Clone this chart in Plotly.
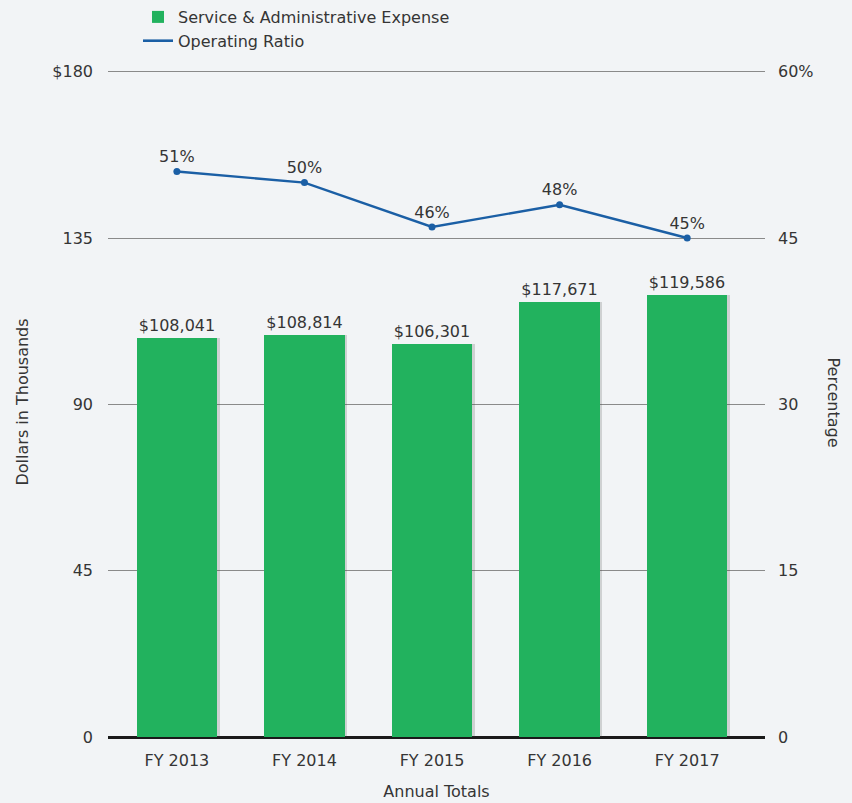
import plotly.graph_objects as go

years = ["FY 2013", "FY 2014", "FY 2015", "FY 2016", "FY 2017"]
expense = [108041, 108814, 106301, 117671, 119586]   # dollars in thousands
ratio = [51, 50, 46, 48, 45]                         # operating ratio, percent

left_ticks = [0, 45000, 90000, 135000, 180000]
left_text = ["0", "45", "90", "135", "$180"]
right_ticks = [0, 15, 30, 45, 60]
right_text = ["0", "15", "30", "45", "60%"]

GREEN = "#22b25e"
BLUE = "#1b5fa5"
TEXT = "#353535"
BG = "#f2f4f6"
FONT = "DejaVu Sans, Noto Sans, sans-serif"

# top of each axis sits a touch above the last tick so its gridline is kept
Y_TOP = 181000
Y2_TOP = Y_TOP / 3000

ML, MR, MT, MB = 108, 87, 68, 66
PLOT_W = 852 - ML - MR

fig = go.Figure()

# soft drop shadow behind each bar
fig.add_trace(go.Bar(
    x=years, y=expense, marker=dict(color="rgba(70,70,70,0.20)", line=dict(width=0)),
    width=0.63, offset=-0.295, showlegend=False, hoverinfo="skip",
))

fig.add_trace(go.Bar(
    x=years, y=expense, name="Service & Administrative Expense",
    marker=dict(color=GREEN, line=dict(width=0)), width=0.63, offset=-0.315,
    text=[f"${v:,}" for v in expense], textposition="outside",
    textfont=dict(size=16, color=TEXT, family=FONT), cliponaxis=False,
))

fig.add_trace(go.Scatter(
    x=years, y=ratio, yaxis="y2", name="Operating Ratio",
    mode="lines+markers+text", line=dict(color=BLUE, width=2.4),
    marker=dict(color=BLUE, size=7), showlegend=False,
    text=[f"{v}%" for v in ratio], textposition="top center",
    textfont=dict(size=16, color=TEXT, family=FONT), cliponaxis=False,
))

# legend entry for the ratio line: plain line swatch, no marker
fig.add_trace(go.Scatter(
    x=[None], y=[None], yaxis="y2", name="Operating Ratio",
    mode="lines", line=dict(color=BLUE, width=2.6), hoverinfo="skip",
))

fig.update_layout(
    width=852, height=803,
    margin=dict(l=ML, r=MR, t=MT, b=MB, autoexpand=False),
    paper_bgcolor=BG, plot_bgcolor=BG,
    font=dict(family=FONT, color=TEXT, size=16),
    barmode="overlay", bargap=0,
    showlegend=True,
    legend=dict(
        xref="container", yref="container",
        x=0.162, y=1.002, xanchor="left", yanchor="top",
        bgcolor="rgba(0,0,0,0)", font=dict(size=16, color=TEXT),
        tracegroupgap=0, itemwidth=30,
    ),
    xaxis=dict(
        range=[-0.54, 4.61], showgrid=False, showline=False, zeroline=False,
        ticks="", ticklabelstandoff=12, tickfont=dict(size=16, color=TEXT),
        title=dict(text="Annual Totals", font=dict(size=16, color=TEXT), standoff=16),
    ),
    yaxis=dict(
        range=[0, Y_TOP], tickvals=left_ticks, ticktext=left_text,
        showgrid=True, gridcolor="#8a8a8a", gridwidth=1,
        zeroline=True, zerolinecolor="#1a1a1a", zerolinewidth=2.5,
        showline=False, ticks="", ticklabelstandoff=14,
        tickfont=dict(size=16, color=TEXT),
    ),
    yaxis2=dict(
        range=[0, Y2_TOP], tickvals=right_ticks, ticktext=right_text,
        overlaying="y", side="right", showgrid=False, zeroline=False,
        showline=False, ticks="", ticklabelstandoff=12,
        tickfont=dict(size=16, color=TEXT),
    ),
    annotations=[
        dict(text="Dollars in Thousands", x=(22 - ML) / PLOT_W, xref="paper",
             xanchor="center", y=0.5, yref="paper", yanchor="middle",
             showarrow=False, textangle=-90, font=dict(size=16, color=TEXT)),
        dict(text="Percentage", x=(833 - ML) / PLOT_W, xref="paper",
             xanchor="center", y=0.5, yref="paper", yanchor="middle",
             showarrow=False, textangle=90, font=dict(size=16, color=TEXT)),
    ],
)

fig.write_html("out.html")
